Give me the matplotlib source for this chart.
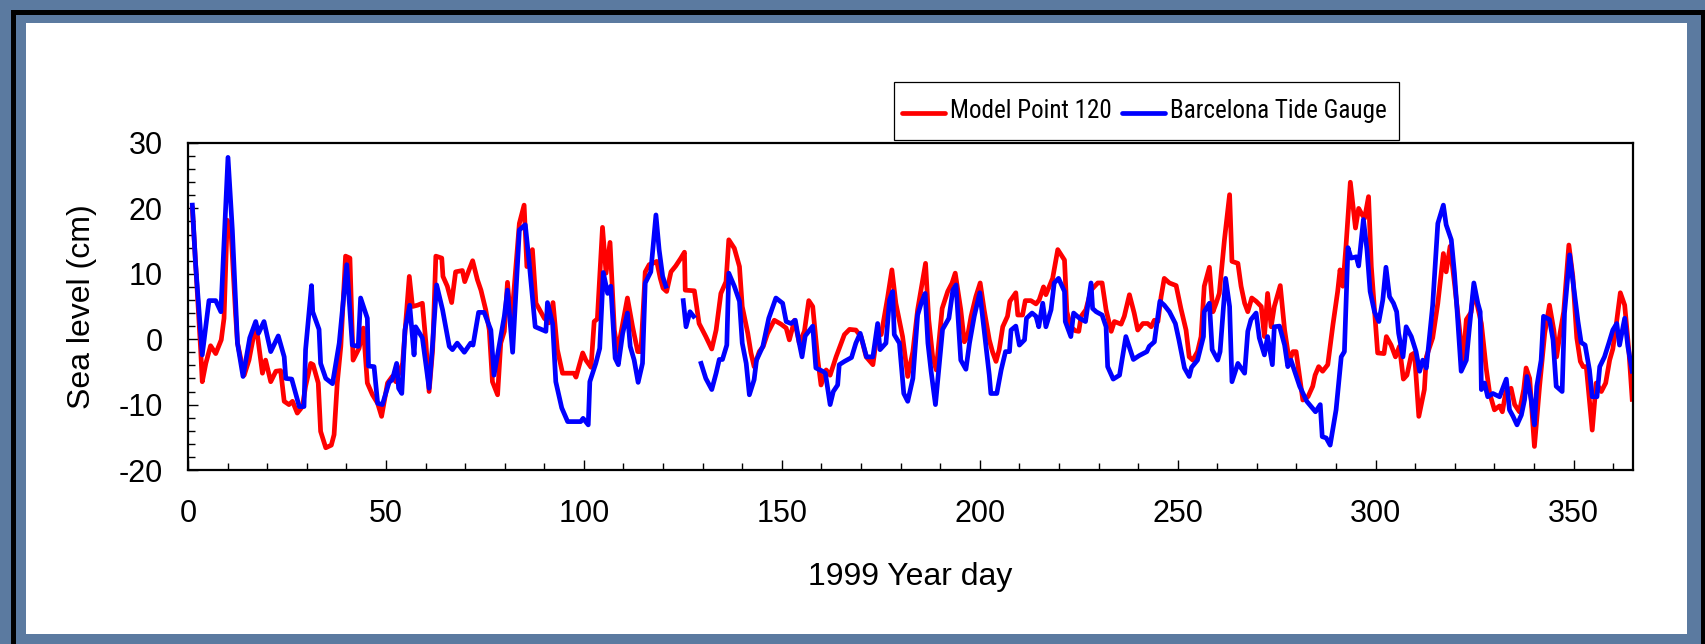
import numpy as np
import matplotlib
matplotlib.use('Agg')
import matplotlib.pyplot as plt
from matplotlib import font_manager
from matplotlib.lines import Line2D
from matplotlib.patches import Rectangle

# year day, sea level (cm)
model_points = [
    (1.1, 20.0), (3.2, -1.6), (3.6, -6.5), (4.5, -3.7), (5.7, -1.0), (7.0, -2.2), (8.4, -0.1), (9.1, 3.2),
    (9.9, 18.2), (10.8, 17.2), (12.0, 4.0), (12.5, -0.6), (14.2, -5.5), (15.4, -3.2), (16.7, 0.9), (17.3, 1.7),
    (18.8, -5.2), (19.6, -3.2), (20.9, -6.5), (22.2, -4.9), (23.4, -4.8), (24.3, -9.5), (25.5, -10.0), (26.4, -9.5),
    (27.6, -11.3), (28.9, -10.3), (29.7, -7.2), (31.0, -3.7), (31.6, -3.9), (32.9, -6.7), (33.5, -14.1), (34.8, -16.6),
    (36.2, -16.2), (36.9, -14.6), (37.7, -6.7), (38.6, -1.1), (39.8, 12.7), (40.9, 12.4), (41.7, -3.2), (43.2, -1.4),
    (44.3, 1.7), (45.3, -6.7), (46.6, -8.5), (47.9, -9.8), (48.9, -11.8), (50.4, -6.7), (51.6, -5.7), (52.5, -6.5),
    (54.2, -3.7), (55.9, 9.6), (56.7, 5.0), (58.0, 5.2), (59.2, 5.5), (60.1, -0.6), (60.9, -8.0), (61.8, -1.6),
    (62.6, 12.7), (64.1, 12.4), (64.4, 9.6), (65.5, 8.1), (66.6, 5.6), (67.6, 10.3), (69.3, 10.5), (69.9, 8.8),
    (71.0, 10.6), (71.9, 12.0), (73.1, 9.1), (74.0, 7.5), (75.2, 4.5), (76.1, 1.4), (76.9, -6.5), (78.2, -8.5),
    (79.0, -0.6), (79.9, 1.2), (80.7, 8.7), (81.6, 1.9), (83.7, 17.7), (84.9, 20.5), (85.6, 11.1), (87.0, 13.7),
    (87.9, 5.5), (89.1, 4.2), (90.0, 3.2), (91.2, 2.5), (92.2, 5.6), (93.3, -1.6), (94.6, -5.2), (97.5, -5.2),
    (98.0, -5.8), (99.7, -2.1), (100.5, -3.2), (101.8, -4.3), (102.6, 2.7), (103.4, 3.1), (104.7, 17.1), (105.6, 10.1),
    (106.6, 14.8), (107.7, 1.4), (108.5, -1.9), (109.8, 2.4), (111.0, 6.3), (112.3, 1.9), (113.6, -1.9), (114.4, -1.9),
    (115.5, 10.3), (116.5, 11.4), (117.8, 11.7), (118.4, 11.9), (119.3, 9.3), (120.0, 7.8), (120.9, 7.3), (122.0, 10.3),
    (123.2, 11.2), (124.5, 12.4), (125.4, 13.3), (125.6, 7.5), (127.9, 7.4), (129.1, 2.4), (130.8, 0.4), (132.3, -1.5),
    (133.4, 1.4), (134.6, 7.0), (135.9, 8.8), (136.6, 15.2), (138.0, 13.9), (139.3, 11.1), (140.0, 5.0), (141.4, 0.9),
    (142.2, -2.1), (143.0, -4.2), (144.3, -1.9), (145.3, -1.1), (146.4, 0.9), (148.1, 2.9), (149.8, 2.3), (151.1, 1.7),
    (151.9, -0.1), (153.2, 2.9), (154.4, -0.6), (155.7, 1.2), (156.8, 5.9), (157.8, 5.0), (159.1, -3.2), (159.9, -7.0),
    (161.2, -4.7), (162.2, -5.5), (163.7, -2.7), (165.8, 0.7), (167.1, 1.5), (168.7, 1.4), (170.0, 0.4), (171.3, -2.7),
    (173.0, -3.9), (174.2, 1.4), (175.1, 0.7), (176.7, 6.3), (177.8, 10.6), (178.8, 5.5), (180.5, 0.4), (181.8, -5.7),
    (183.1, -1.9), (184.3, 4.5), (186.3, 11.6), (187.1, 3.0), (188.1, -2.7), (189.0, -4.7), (190.5, 4.7), (191.9, 7.3),
    (193.0, 8.6), (193.8, 10.1), (195.2, 4.5), (196.1, -0.4), (196.9, 0.4), (197.8, 3.5), (199.0, 6.5), (200.1, 8.6),
    (201.1, 4.5), (202.4, -0.1), (203.2, -1.9), (204.1, -3.4), (204.9, -1.6), (205.8, 1.9), (207.0, 3.5), (207.6, 5.8),
    (209.1, 7.1), (209.6, 3.7), (210.8, 3.7), (211.5, 5.9), (212.9, 5.9), (214.2, 5.4), (215.0, 6.0), (216.1, 8.0),
    (216.7, 6.8), (218.4, 9.3), (219.7, 13.7), (221.4, 12.1), (222.0, 4.2), (223.0, 1.9), (224.1, 1.3), (225.0, 1.2),
    (225.6, 3.5), (226.8, 4.5), (228.1, 7.5), (229.8, 8.6), (230.9, 8.6), (231.9, 4.5), (233.2, 1.2), (234.0, 2.7),
    (235.7, 2.3), (236.5, 3.5), (237.8, 6.8), (239.0, 4.0), (239.9, 1.4), (241.2, 2.4), (242.4, 2.4), (243.3, 1.9),
    (244.1, 2.9), (245.0, 2.7), (245.8, 6.5), (246.6, 9.3), (247.9, 8.6), (249.6, 8.2), (250.8, 4.7), (252.1, 1.4),
    (252.9, -2.7), (253.8, -3.2), (255.0, -1.9), (255.9, 0.4), (256.7, 8.1), (258.0, 11.0), (258.9, 4.2), (259.7, 5.5),
    (260.5, 7.0), (261.8, 15.2), (263.1, 22.1), (263.7, 11.9), (265.2, 11.6), (266.0, 8.1), (266.9, 5.5), (267.7, 4.2),
    (268.7, 6.3), (269.8, 5.8), (271.1, 5.0), (271.9, 0.4), (272.7, 7.0), (273.6, 1.9), (274.4, 5.0), (275.9, 8.2),
    (277.0, 1.4), (278.2, -3.4), (279.1, -1.9), (279.9, -1.9), (281.6, -9.3), (282.9, -8.8), (284.1, -7.2), (284.7, -5.5),
    (285.6, -4.2), (286.6, -4.9), (287.9, -3.9), (289.2, 2.2), (290.4, 7.3), (291.0, 10.6), (291.7, 8.1), (292.5, 14.2),
    (293.6, 24.0), (294.9, 17.0), (295.7, 20.0), (296.6, 19.0), (297.2, 18.5), (298.2, 21.8), (298.9, 11.1), (299.7, 4.5),
    (300.5, -2.1), (302.1, -2.2), (302.7, 0.4), (303.9, -0.9), (305.0, -2.7), (306.0, -1.1), (307.0, -6.1), (307.9, -5.5),
    (309.0, -2.4), (309.8, -2.1), (310.9, -11.8), (312.3, -7.7), (312.8, -2.7), (314.4, 0.2), (315.7, 5.5), (317.1, 13.1),
    (317.8, 10.3), (318.8, 14.2), (319.9, 8.6), (321.2, 1.4), (322.0, -3.7), (322.9, 3.0), (324.1, 4.1), (324.8, 7.5),
    (326.7, 2.4), (327.9, -4.4), (328.8, -8.3), (330.0, -10.8), (331.3, -10.2), (332.0, -11.1), (332.9, -8.0), (334.2, -7.5),
    (335.1, -10.0), (336.3, -11.1), (337.4, -7.7), (338.0, -4.4), (338.9, -6.0), (340.1, -16.4), (341.4, -7.2), (342.7, 0.9),
    (343.9, 5.2), (345.0, 1.4), (345.7, -2.7), (346.6, 1.0), (347.5, 4.2), (348.8, 14.4), (349.8, 9.6), (350.8, 0.2),
    (351.7, -3.4), (352.4, -4.2), (353.2, -4.2), (354.7, -13.9), (355.7, -6.7), (357.0, -8.0), (358.1, -6.7), (359.1, -3.2),
    (359.9, -1.5), (360.8, 2.4), (361.8, 7.1), (362.9, 5.2), (364.0, -2.1), (364.8, -9.2),
]

# tide gauge record has two short gaps around day 122-129
gauge_points = [
    (1.1, 20.5), (1.9, 11.6), (3.6, -2.4), (5.3, 5.9), (7.0, 5.9), (8.3, 4.2), (10.1, 27.8), (11.2, 16.7),
    (12.5, -0.6), (13.9, -5.7), (15.6, 0.2), (17.1, 2.7), (17.8, 0.9), (19.2, 2.7), (20.9, -1.9), (22.8, 0.5),
    (24.3, -2.7), (24.7, -6.0), (26.2, -6.1), (28.1, -10.3), (29.3, -10.3), (29.7, -1.6), (31.2, 8.2), (31.5, 4.2),
    (33.1, 1.5), (33.5, -3.7), (34.8, -6.0), (36.5, -6.8), (38.2, -0.6), (40.1, 11.4), (41.5, -0.9), (43.0, -1.1),
    (43.6, 6.3), (45.3, 3.2), (45.6, -4.1), (47.0, -4.2), (47.9, -9.8), (49.1, -10.0), (50.8, -6.6), (51.6, -6.2),
    (52.7, -3.7), (53.2, -7.5), (54.0, -8.3), (54.8, 1.4), (56.0, 5.2), (57.1, -2.4), (57.5, 1.9), (59.2, 0.2),
    (60.9, -7.5), (61.8, -0.6), (62.8, 8.3), (64.3, 4.5), (66.0, -1.1), (66.8, -1.6), (68.0, -0.6), (69.8, -2.0),
    (71.4, -0.6), (72.0, -0.9), (73.4, 4.1), (74.8, 4.1), (76.5, 1.4), (77.3, -5.5), (79.9, 3.5), (80.7, 7.5),
    (82.0, -2.0), (83.7, 16.7), (85.2, 17.5), (86.2, 11.6), (87.7, 1.9), (90.4, 1.2), (90.8, 5.6), (92.1, 2.4),
    (92.9, -6.5), (94.4, -10.5), (95.9, -12.6), (99.2, -12.6), (99.8, -12.1), (101.1, -13.1), (101.5, -6.5), (103.0, -3.7),
    (104.0, -1.4), (104.9, 10.2), (106.0, 7.0), (106.8, 8.1), (107.9, -2.9), (108.7, -3.9), (109.8, 0.9), (111.0, 4.0),
    (111.7, -1.1), (112.7, -3.2), (113.7, -6.6), (114.8, -3.7), (115.5, 8.6), (116.9, 10.3), (118.2, 19.0), (119.0, 13.7),
    (119.9, 9.6), (120.7, 8.1), (123.0, np.nan), (125.1, 5.9), (125.8, 1.9), (126.8, 4.2), (127.7, 3.5), (128.7, np.nan),
    (129.6, -3.7), (130.8, -6.0), (132.3, -7.7), (133.4, -5.2), (134.2, -3.1), (135.0, -3.1), (136.1, -0.9), (136.6, 10.1),
    (138.0, 8.1), (139.3, 5.8), (140.0, -0.6), (141.0, -3.7), (141.8, -8.5), (143.0, -6.2), (143.6, -3.2), (145.2, -1.1),
    (146.7, 3.2), (148.5, 6.3), (150.2, 5.5), (151.1, 2.7), (152.3, 2.4), (153.4, 2.9), (154.4, -0.6), (155.1, -2.7),
    (155.9, 0.5), (157.8, 2.0), (158.6, -4.4), (160.3, -4.9), (161.0, -5.2), (162.2, -10.0), (163.0, -8.0), (164.1, -7.0),
    (164.5, -3.9), (165.8, -3.4), (167.6, -2.8), (168.7, -0.6), (169.8, 0.9), (171.4, -2.7), (173.0, -2.7), (174.2, 2.4),
    (174.8, -1.6), (176.3, -0.6), (177.2, 6.0), (178.0, 7.3), (178.4, 0.7), (179.7, -0.6), (180.8, -8.3), (181.8, -9.5),
    (183.1, -6.0), (184.3, 3.7), (185.2, 5.5), (186.2, 7.0), (186.9, -0.6), (187.7, -4.9), (188.8, -10.0), (189.8, -3.7),
    (190.6, 1.5), (192.2, 3.2), (193.2, 7.5), (194.0, 8.3), (195.2, -3.2), (196.5, -4.6), (197.4, -0.6), (198.6, 3.5),
    (200.0, 7.1), (201.1, 1.4), (202.4, -5.5), (202.8, -8.3), (204.3, -8.3), (205.4, -4.7), (206.5, -1.9), (207.5, -1.9),
    (207.9, 1.4), (209.1, 2.0), (210.0, -0.9), (211.3, -0.1), (211.8, 3.2), (213.2, 4.0), (214.2, 3.5), (214.9, 1.9),
    (215.9, 5.5), (216.7, 1.9), (218.0, 4.5), (218.8, 8.6), (219.9, 9.3), (221.4, 7.3), (221.6, 2.7), (223.0, 0.4),
    (223.7, 4.0), (225.2, 3.2), (226.7, 2.7), (228.1, 8.6), (228.5, 4.7), (229.4, 4.2), (230.9, 3.7), (231.9, 1.9),
    (232.3, -4.2), (233.7, -6.1), (235.3, -5.5), (236.9, 0.4), (238.8, -3.1), (240.3, -2.5), (242.2, -1.9), (242.8, -1.1),
    (244.1, -0.4), (245.5, 5.8), (246.6, 5.2), (247.9, 4.2), (249.4, 2.4), (250.3, -0.1), (251.7, -4.4), (252.9, -5.7),
    (253.5, -4.3), (255.0, -3.2), (256.5, 0.4), (256.7, 4.2), (258.0, 5.5), (258.7, -1.6), (260.1, -3.2), (260.7, -1.9),
    (262.1, 9.3), (263.1, 5.0), (263.7, -6.5), (265.2, -3.7), (266.9, -5.2), (267.7, 1.2), (268.5, 3.0), (269.8, 4.0),
    (270.6, 0.2), (271.9, -2.4), (272.7, 0.4), (273.9, -3.9), (274.4, 1.9), (275.7, 2.0), (277.0, -0.9), (277.8, -4.2),
    (278.6, -3.2), (280.8, -7.2), (282.6, -9.5), (284.8, -11.1), (286.0, -10.0), (286.5, -14.9), (287.5, -15.1), (288.5, -16.2),
    (290.0, -10.8), (291.3, -2.7), (292.1, -1.9), (293.0, 14.0), (293.8, 12.4), (295.1, 12.6), (295.7, 11.2), (296.9, 18.3),
    (297.8, 13.7), (298.6, 7.3), (299.7, 4.2), (300.8, 2.7), (301.8, 6.0), (302.6, 11.0), (303.5, 6.5), (304.5, 5.5),
    (305.3, 4.2), (305.8, 0.9), (306.9, -2.7), (307.7, 1.9), (309.0, 0.4), (310.2, -1.9), (311.1, -4.9), (311.9, -3.2),
    (312.8, -4.4), (313.6, 0.4), (314.4, 5.2), (315.7, 17.7), (317.1, 20.5), (317.8, 17.5), (319.1, 15.2), (319.9, 10.1),
    (320.5, 5.0), (321.6, -4.9), (322.9, -3.2), (323.7, 1.9), (324.8, 8.6), (325.8, 5.5), (326.4, 4.2), (326.7, -7.7),
    (327.5, -6.7), (328.3, -8.8), (329.6, -8.3), (331.3, -8.8), (333.0, -6.1), (333.8, -10.8), (334.7, -11.8), (335.7, -13.1),
    (336.8, -11.6), (337.6, -9.3), (338.2, -5.7), (339.3, -9.3), (340.1, -13.1), (340.7, -7.2), (341.8, -3.2), (342.4, 3.5),
    (343.9, 3.0), (344.8, -0.1), (345.6, -7.2), (347.1, -8.0), (347.7, 4.0), (349.0, 12.9), (350.2, 7.0), (351.1, 2.7),
    (351.9, -0.5), (352.9, -0.9), (354.0, -4.7), (354.7, -8.8), (355.9, -8.8), (356.6, -4.2), (357.8, -2.7), (358.9, -0.6),
    (359.9, 1.4), (360.9, 2.4), (361.6, -0.9), (362.9, 3.2), (363.7, -1.1), (364.8, -4.9),
]

series_labels = ['Model Point 120', 'Barcelona Tide Gauge']
series_colors = ['#ff0000', '#0000ff']
x_major = list(range(0, 351, 50))
y_major = list(range(-20, 31, 10))

plt.rcParams['font.family'] = ['Liberation Sans', 'DejaVu Sans']
plt.rcParams['axes.unicode_minus'] = False

W, H = 1705, 644


def fx(px):
    return px / W


def fy(py):
    return 1 - py / H


fig = plt.figure(figsize=(W / 100, H / 100), dpi=100, facecolor='#5b7aa0')

# white slide panel and dark outer frame
fig.add_artist(Rectangle((fx(26), fy(634)), fx(1687) - fx(26), fy(23) - fy(634),
                         transform=fig.transFigure, facecolor='white', edgecolor='none', zorder=-2))
fig.add_artist(Rectangle((fx(12.5), -0.2), fx(1702.5) - fx(12.5), fy(12.5) + 0.2,
                         transform=fig.transFigure, fill=False, edgecolor='black', linewidth=3.6, zorder=-1))

ax = fig.add_axes([fx(188), fy(470), (1633 - 188) / W, (470 - 143) / H])

model_day, model_cm = zip(*model_points)
gauge_day, gauge_cm = zip(*gauge_points)

ax.plot(model_day, model_cm, color=series_colors[0], lw=3.4, solid_joinstyle='round')
ax.plot(gauge_day, gauge_cm, color=series_colors[1], lw=3.4, solid_joinstyle='round')

ax.set_xlim(0, 365)
ax.set_ylim(-20, 30)
ax.set_xticks(x_major)
ax.set_xticks(range(0, 366, 10), minor=True)
ax.set_yticks(y_major)
ax.set_yticks(range(-20, 31, 2), minor=True)
ax.tick_params(which='both', direction='in', width=1, colors='black')
ax.tick_params(which='major', length=7)
ax.tick_params(which='minor', length=5)
ax.tick_params(axis='x', pad=21, labelsize=22)
ax.tick_params(axis='y', pad=18, labelsize=22)
for spine in ax.spines.values():
    spine.set_linewidth(1.6)

ax.set_xlabel('1999 Year day', fontsize=23)
ax.xaxis.set_label_coords(0.5, -(562 - 470) / 327)
ax.set_ylabel('Sea level (cm)', fontsize=23)
ax.yaxis.set_label_coords((97 - 188) / 1445, 0.5)

# legend: boxed row of two entries above the plot, text in a narrow face
names = {f.name for f in font_manager.fontManager.ttflist}
legend_family = next((n for n in ['Liberation Sans Narrow', 'Arial Narrow', 'Roboto Condensed',
                                  'DejaVu Sans Condensed'] if n in names), 'Liberation Sans')

fig.add_artist(Rectangle((fx(894), fy(140)), fx(1399) - fx(894), fy(82) - fy(140),
                         transform=fig.transFigure, facecolor='white', edgecolor='black',
                         linewidth=0.9, zorder=5))
handle_x = [(902, 945), (1122, 1165)]
text_x = [950, 1170]
text_width = [160, 220]
legend_texts = []
for (x0, x1), tx, label, color in zip(handle_x, text_x, series_labels, series_colors):
    fig.add_artist(Line2D([fx(x0), fx(x1)], [fy(112.5), fy(112.5)], transform=fig.transFigure,
                          color=color, lw=3.4, solid_capstyle='round', zorder=6))
    legend_texts.append(fig.text(fx(tx), fy(118), label, family=legend_family, fontsize=22,
                                 ha='left', va='baseline', zorder=6))

# shrink the legend text so both labels fit their slots
renderer = fig.canvas.get_renderer()
measured = sum(t.get_window_extent(renderer).width for t in legend_texts)
legend_size = min(22, 22 * sum(text_width) / measured)
for t in legend_texts:
    t.set_fontsize(legend_size)

fig.savefig('out.png', dpi=100, facecolor=fig.get_facecolor())
